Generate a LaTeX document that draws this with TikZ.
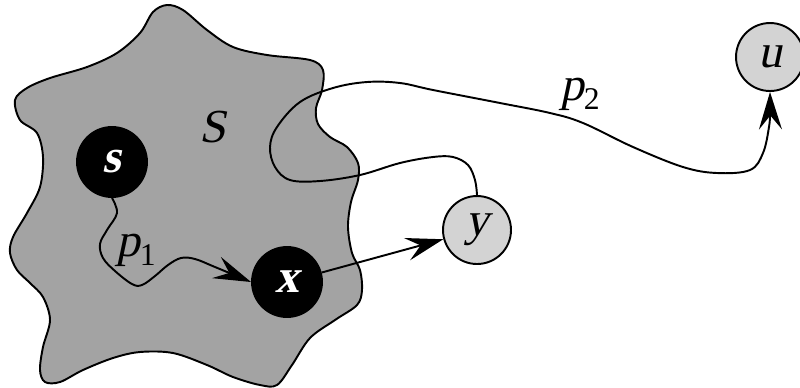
\documentclass[tikz,border=0pt]{standalone}
\usepackage{fontspec}
\setmainfont{Liberation Serif}
\newfontfamily\slfont{Liberation Serif}[FakeSlant=0.21]
\usepackage{xcolor}
\definecolor{setgray}{HTML}{A3A3A3}
\definecolor{fringe}{HTML}{D3D3D3}
\usetikzlibrary{arrows.meta}
\newcommand{\psub}[1]{{\slfont p}\raisebox{-0.45ex}{\fontsize{18}{18}\selectfont #1}}
\tikzset{
  donenode/.style={
    circle, fill=black, draw=black, line width=1.1pt,
    minimum size=1.4cm, inner sep=0pt,
    text=white, font=\slfont\fontsize{27}{27}\selectfont\bfseries,
  },
  opennode/.style={
    circle, fill=fringe, draw=black, line width=1.1pt,
    minimum size=1.36cm, inner sep=0pt,
    font=\slfont\fontsize{27}{27}\selectfont,
  },
  lbl/.style={font=\fontsize{27}{29}\selectfont, inner sep=0pt},
  sig/.style={-{Stealth[length=7.5mm, width=4.6mm, inset=2.8mm]}, line width=1.1pt},
  wire/.style={line width=1.1pt},
}

\begin{document}
\begin{tikzpicture}[x=0.02cm, y=-0.02cm]
  \useasboundingbox (0,0) rectangle (800,387);

  % The set S
  \draw[wire, fill=setgray] plot[smooth cycle, tension=0.55] coordinates {
    (167,5) (183,10) (207,30) (233,47) (267,55) (310,60) (323,70) (322,90)
    (316,108) (318,124) (330,137) (347,147) (358,163) (358,180) (351,202)
    (348,227) (352,253) (360,270) (362,290) (357,305) (335,320) (310,338)
    (292,365) (277,385) (260,385) (233,377) (207,365) (173,353) (140,352)
    (113,358) (83,370) (60,382) (45,382) (40,370) (43,347) (50,320) (43,297)
    (30,283) (17,270) (10,253) (13,237) (27,213) (40,187) (43,157) (37,133)
    (20,120) (15,100) (27,88) (50,78) (87,67) (117,53) (140,33) (153,12)};
  \node[lbl] (setlbl) at (213,127) {\slfont S};

  % Vertices
  \node[donenode] (s) at (112,162) {s};
  \node[donenode] (x) at (287,282) {x};
  \node[opennode] (y) at (477,230) {y};
  \node[opennode] (u) at (770,57) {u};

  % Path p1 from s to x
  \draw[sig] plot[smooth, tension=0.6] coordinates {
    (s.south) (117,213) (107,230) (100,244) (103,258) (115,271) (132,284)
    (142,285) (155,276) (168,265) (181,258) (195,259) (215,267) (x.west)};
  \node[lbl] (p1) at (136,250) {\psub{1}};

  % Edge x -> y
  \draw[sig] (x) -- (y);

  % Path p2 from y to u
  \draw[sig] plot[smooth, tension=0.6] coordinates {
    (y.north) (475,180) (468,165) (453,157) (433,157) (400,163) (360,175)
    (320,181) (290,180) (275,167) (270,147) (277,127) (300,102) (333,88)
    (367,82) (400,83) (433,90) (500,103) (550,113) (583,123) (633,147)
    (683,167) (717,173) (750,170) (763,153) (769,127) (770,112) (u.south)};
  \node[lbl] (p2) at (580,94) {\psub{2}};
\end{tikzpicture}
\end{document}
